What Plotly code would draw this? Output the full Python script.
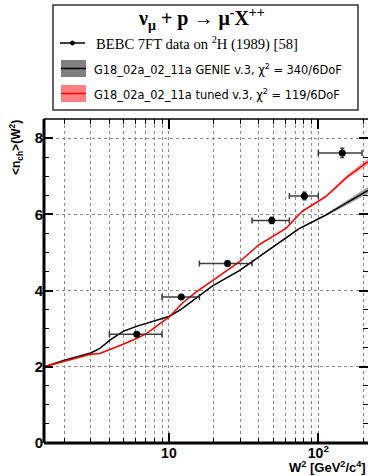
import numpy as np
import plotly.graph_objects as go

# ---------------- data ----------------
# BEBC data points
data_w2 = [6.1, 12.1, 24.7, 48.8, 80.7, 144.6]
data_n = [2.85, 3.83, 4.71, 5.84, 6.48, 7.61]
data_w2_lo = [4, 9, 16, 36, 64, 100]
data_w2_hi = [9, 16, 36, 64, 100, 196]
data_nerr = [0.05, 0.06, 0.06, 0.08, 0.10, 0.12]

# GENIE v.3 default
genie_w2 = [1.46, 2, 3, 3.45, 4.03, 4.94, 6.07, 7.82, 10, 12, 16, 19.6, 29.6, 47, 74, 112, 215]
genie_n = [2.0, 2.17, 2.36, 2.48, 2.70, 2.93, 3.06, 3.20, 3.32, 3.50, 3.85, 4.12, 4.52, 5.08, 5.62, 5.98, 6.63]
genie_err = [0.01, 0.01, 0.01, 0.01, 0.01, 0.01, 0.01, 0.01, 0.01, 0.01, 0.01, 0.01, 0.015, 0.02, 0.02, 0.03, 0.09]

# tuned v.3
tuned_w2 = [1.46, 2, 3, 3.45, 4.03, 4.94, 6.07, 7.07, 10, 12.4, 15.2, 19.6, 29.6, 40, 47, 60.6, 78, 112, 156, 215]
tuned_n = [2.0, 2.15, 2.33, 2.35, 2.45, 2.59, 2.74, 2.87, 3.30, 3.68, 3.96, 4.27, 4.75, 5.20, 5.36, 5.63, 6.08, 6.46, 6.98, 7.38]
tuned_err = [0.01, 0.01, 0.01, 0.01, 0.01, 0.01, 0.01, 0.01, 0.01, 0.01, 0.01, 0.01, 0.015, 0.02, 0.02, 0.02, 0.03, 0.03, 0.05, 0.09]

x_major = [10, 100]
x_major_text = ["10", "10<sup>2</sup>"]
x_minor = [2, 3, 4, 5, 6, 7, 8, 9, 20, 30, 40, 50, 60, 70, 80, 90, 200]

# ---------------- geometry ----------------
W, H = 368, 476
L, R, T, B = 44, 368, 119, 443


def px(x):
    return (x - L) / (R - L)


def py(y):
    return (B - y) / (B - T)


fig = go.Figure()


def band(xs, ys, es, fillcol):
    up = [y + e for y, e in zip(ys, es)]
    lo = [y - e for y, e in zip(ys, es)]
    fig.add_trace(go.Scatter(x=xs, y=up, mode="lines", line=dict(width=0),
                             showlegend=False, hoverinfo="skip"))
    fig.add_trace(go.Scatter(x=xs, y=lo, mode="lines", line=dict(width=0),
                             fill="tonexty", fillcolor=fillcol,
                             showlegend=False, hoverinfo="skip"))


band(genie_w2, genie_n, genie_err, "rgba(110,110,110,0.6)")
fig.add_trace(go.Scatter(x=genie_w2, y=genie_n, mode="lines",
                         line=dict(color="black", width=1.5), showlegend=False))
band(tuned_w2, tuned_n, tuned_err, "rgba(255,100,100,0.5)")
fig.add_trace(go.Scatter(x=tuned_w2, y=tuned_n, mode="lines",
                         line=dict(color="red", width=1.5), showlegend=False))

err_plus = [h - x for h, x in zip(data_w2_hi, data_w2)]
err_minus = [x - l for l, x in zip(data_w2_lo, data_w2)]
fig.add_trace(go.Scatter(
    x=data_w2, y=data_n, mode="markers",
    marker=dict(color="black", size=7),
    error_x=dict(type="data", symmetric=False, array=err_plus, arrayminus=err_minus,
                 color="rgba(40,40,40,0.9)", thickness=1.5, width=3),
    error_y=dict(type="data", array=data_nerr, color="rgba(40,40,40,0.9)",
                 thickness=1.5, width=2),
    showlegend=False))

xr = [np.log10(1.46), np.log10(215)]
grid = dict(showgrid=True, gridcolor="#8a8a8a", griddash="dot", gridwidth=1)

fig.update_layout(
    width=W, height=H,
    margin=dict(l=L, r=W - R, t=T, b=H - B),
    paper_bgcolor="white", plot_bgcolor="white",
    showlegend=False,
    xaxis=dict(type="log", range=xr, tickmode="array", tickvals=x_major,
               ticktext=x_major_text, ticks="inside", ticklen=10, tickwidth=1.5,
               tickcolor="black", showline=False, zeroline=False,
               tickfont=dict(family="Liberation Sans", size=14, color="black", weight="bold"),
               minor=dict(tickmode="array", tickvals=x_minor, ticks="inside", ticklen=5,
                          tickwidth=1, tickcolor="black", **grid),
               **grid),
    xaxis2=dict(type="log", range=xr, overlaying="x", side="top", tickmode="array",
                tickvals=x_major, ticks="inside", ticklen=10, tickwidth=1.5,
                tickcolor="black", showticklabels=False, showgrid=False,
                minor=dict(tickmode="array", tickvals=x_minor, ticks="inside", ticklen=5,
                           tickwidth=1, tickcolor="black", showgrid=False)),
    yaxis=dict(range=[0, 8.5], tickmode="array", tickvals=[0, 2, 4, 6, 8],
               ticks="inside", ticklen=9, tickwidth=1.5, tickcolor="black",
               showline=False, zeroline=False,
               tickfont=dict(family="Liberation Sans", size=15, color="black", weight="bold"),
               minor=dict(dtick=0.5, ticks="inside", ticklen=5, tickwidth=1,
                          tickcolor="black", showgrid=False),
               **grid),
    yaxis2=dict(range=[0, 8.5], overlaying="y", side="right", tickmode="array",
                tickvals=[0, 2, 4, 6, 8], ticks="inside", ticklen=9, tickwidth=1.5,
                tickcolor="black", showticklabels=False, showgrid=False,
                minor=dict(dtick=0.5, ticks="inside", ticklen=5, tickwidth=1,
                           tickcolor="black", showgrid=False)),
)
# dummy trace to activate secondary axes
fig.add_trace(go.Scatter(x=[10], y=[-5], xaxis="x2", yaxis="y2", mode="markers",
                         marker=dict(opacity=0), showlegend=False, hoverinfo="skip"))

shapes = []
# axes frame
shapes.append(dict(type="line", xref="paper", yref="paper", x0=0, x1=0, y0=0, y1=1,
                   line=dict(color="black", width=3)))
shapes.append(dict(type="line", xref="paper", yref="paper", x0=0, x1=1, y0=0, y1=0,
                   line=dict(color="black", width=3)))
shapes.append(dict(type="line", xref="paper", yref="paper", x0=0, x1=1, y0=1, y1=1,
                   line=dict(color="black", width=1.5)))
# legend box
shapes.append(dict(type="rect", xref="paper", yref="paper", x0=px(53), x1=px(358),
                   y0=py(110), y1=py(5), line=dict(color="#333333", width=1.5),
                   fillcolor="white"))
# legend entry 1: data marker with line
shapes.append(dict(type="line", xref="paper", yref="paper", x0=px(60), x1=px(85),
                   y0=py(43), y1=py(43), line=dict(color="black", width=1.5)))
shapes.append(dict(type="circle", xref="paper", yref="paper", x0=px(70.5), x1=px(74.5),
                   y0=py(45), y1=py(41), line=dict(color="black", width=1), fillcolor="black"))
# legend entry 2: genie box
shapes.append(dict(type="rect", xref="paper", yref="paper", x0=px(61), x1=px(86),
                   y0=py(77), y1=py(60), line=dict(width=0), fillcolor="rgb(128,128,128)"))
shapes.append(dict(type="line", xref="paper", yref="paper", x0=px(61), x1=px(86),
                   y0=py(68.5), y1=py(68.5), line=dict(color="black", width=1.5)))
# legend entry 3: tuned box
shapes.append(dict(type="rect", xref="paper", yref="paper", x0=px(61), x1=px(86),
                   y0=py(102), y1=py(85), line=dict(width=0), fillcolor="rgb(255,128,128)"))
shapes.append(dict(type="line", xref="paper", yref="paper", x0=px(61), x1=px(86),
                   y0=py(93.5), y1=py(93.5), line=dict(color="red", width=1.5)))
fig.update_layout(shapes=shapes)

ann = []
ann.append(dict(text="<b>ν<sub>μ</sub> + p → μ<sup>-</sup>X<sup>++</sup></b>",
                x=px(201), y=py(19), xref="paper", yref="paper", showarrow=False,
                xanchor="center", yanchor="middle",
                font=dict(family="Liberation Serif", size=20, color="black")))
ann.append(dict(text="BEBC 7FT data on <sup>2</sup>H (1989) [58]",
                x=px(94), y=py(43), xref="paper", yref="paper", showarrow=False,
                xanchor="left", yanchor="middle",
                font=dict(family="Liberation Serif", size=14.6, color="black")))
ann.append(dict(text="G18_02a_02_11a GENIE v.3, χ<sup>2</sup> = 340/6DoF",
                x=px(92), y=py(69), xref="paper", yref="paper", showarrow=False,
                xanchor="left", yanchor="middle",
                font=dict(family="DejaVu Sans", size=11.4, color="black")))
ann.append(dict(text="G18_02a_02_11a tuned v.3, χ<sup>2</sup> = 119/6DoF",
                x=px(92), y=py(94), xref="paper", yref="paper", showarrow=False,
                xanchor="left", yanchor="middle",
                font=dict(family="DejaVu Sans", size=11.4, color="black")))
ann.append(dict(text="<b>W<sup>2</sup> [GeV<sup>2</sup>/c<sup>4</sup>]</b>",
                x=px(368), y=py(467), xref="paper", yref="paper", showarrow=False,
                xanchor="right", yanchor="middle",
                font=dict(family="Liberation Sans", size=13, color="black")))
ann.append(dict(text="<b>&lt;n<sub>ch</sub>&gt;(W<sup>2</sup>)</b>",
                x=px(16), y=py(148), xref="paper", yref="paper", showarrow=False,
                xanchor="center", yanchor="middle", textangle=-90,
                font=dict(family="Liberation Sans", size=12, color="black")))
fig.update_layout(annotations=ann)

fig.write_html("out.html", config={"displayModeBar": False},
               post_script="document.body.style.margin='0';document.body.style.overflow='hidden';")
